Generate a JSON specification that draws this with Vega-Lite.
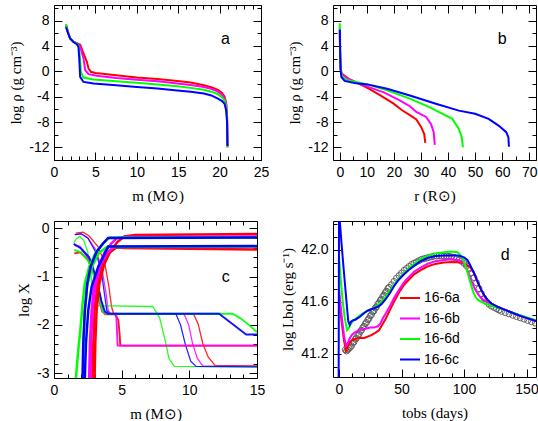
{
"$schema": "https://vega.github.io/schema/vega-lite/v6.json",
"background": "white",
"padding": {"left": 8, "top": 0, "right": 0, "bottom": 0},
"config": {
  "view": {"stroke": "#000", "strokeWidth": 1},
  "axis": {"domain": false, "grid": false, "tickColor": "#000", "tickWidth": 1, "labelFont": "Liberation Sans", "labelFontSize": 14, "labelColor": "#000", "labelPadding": 13, "labelFlush": false, "labelOverlap": false, "titleFont": "Liberation Serif", "titleFontSize": 15, "titleFontWeight": "normal", "titleColor": "#000", "titlePadding": 5},
  "text": {"font": "Liberation Sans"}
},
"datasets": {
  "pa": [
    {"k":"16-6a","m":1.45,"r":7.3},{"k":"16-6a","m":1.74,"r":6.0},{"k":"16-6a","m":1.94,"r":5.24},{"k":"16-6a","m":2.35,"r":4.7},{"k":"16-6a","m":2.75,"r":4.45},{"k":"16-6a","m":3.16,"r":4.2},{"k":"16-6a","m":3.56,"r":2.85},{"k":"16-6a","m":3.97,"r":1.53},{"k":"16-6a","m":4.17,"r":0.47},{"k":"16-6a","m":4.45,"r":-0.06},{"k":"16-6a","m":5.0,"r":-0.25},{"k":"16-6a","m":5.6,"r":-0.33},{"k":"16-6a","m":7.5,"r":-0.62},{"k":"16-6a","m":10,"r":-0.97},{"k":"16-6a","m":12.5,"r":-1.2},{"k":"16-6a","m":14.9,"r":-1.5},{"k":"16-6a","m":16.5,"r":-1.75},{"k":"16-6a","m":18.1,"r":-2.2},{"k":"16-6a","m":19.0,"r":-2.5},{"k":"16-6a","m":19.8,"r":-2.9},{"k":"16-6a","m":20.3,"r":-3.4},{"k":"16-6a","m":20.6,"r":-4.0},{"k":"16-6a","m":20.8,"r":-5.0},{"k":"16-6a","m":20.9,"r":-7},{"k":"16-6a","m":20.95,"r":-12},
    {"k":"16-6b","m":1.45,"r":7.3},{"k":"16-6b","m":1.74,"r":6.0},{"k":"16-6b","m":1.94,"r":5.24},{"k":"16-6b","m":2.35,"r":4.7},{"k":"16-6b","m":2.75,"r":4.45},{"k":"16-6b","m":3.16,"r":3.9},{"k":"16-6b","m":3.56,"r":2.06},{"k":"16-6b","m":3.77,"r":0.2},{"k":"16-6b","m":4.17,"r":-0.43},{"k":"16-6b","m":5.0,"r":-0.65},{"k":"16-6b","m":5.6,"r":-0.75},{"k":"16-6b","m":7.5,"r":-1.05},{"k":"16-6b","m":10,"r":-1.3},{"k":"16-6b","m":12.5,"r":-1.55},{"k":"16-6b","m":14.9,"r":-1.9},{"k":"16-6b","m":16.5,"r":-2.15},{"k":"16-6b","m":18.1,"r":-2.45},{"k":"16-6b","m":19.0,"r":-2.75},{"k":"16-6b","m":19.8,"r":-3.2},{"k":"16-6b","m":20.3,"r":-3.7},{"k":"16-6b","m":20.6,"r":-4.3},{"k":"16-6b","m":20.8,"r":-5.3},{"k":"16-6b","m":20.9,"r":-7},{"k":"16-6b","m":20.95,"r":-12},
    {"k":"16-6d","m":1.45,"r":7.5},{"k":"16-6d","m":1.74,"r":6.0},{"k":"16-6d","m":1.94,"r":5.24},{"k":"16-6d","m":2.35,"r":4.7},{"k":"16-6d","m":2.75,"r":4.4},{"k":"16-6d","m":3.0,"r":3.9},{"k":"16-6d","m":3.15,"r":2.0},{"k":"16-6d","m":3.24,"r":-0.06},{"k":"16-6d","m":3.56,"r":-0.97},{"k":"16-6d","m":4.78,"r":-1.28},{"k":"16-6d","m":7.5,"r":-1.55},{"k":"16-6d","m":10,"r":-1.8},{"k":"16-6d","m":12.5,"r":-2.05},{"k":"16-6d","m":14.9,"r":-2.35},{"k":"16-6d","m":16.5,"r":-2.6},{"k":"16-6d","m":18.1,"r":-2.9},{"k":"16-6d","m":19.0,"r":-3.2},{"k":"16-6d","m":19.8,"r":-3.6},{"k":"16-6d","m":20.3,"r":-4.1},{"k":"16-6d","m":20.6,"r":-4.6},{"k":"16-6d","m":20.8,"r":-5.6},{"k":"16-6d","m":20.9,"r":-7.5},{"k":"16-6d","m":20.95,"r":-12},
    {"k":"16-6c","m":1.45,"r":7.0},{"k":"16-6c","m":1.74,"r":5.9},{"k":"16-6c","m":1.94,"r":5.2},{"k":"16-6c","m":2.35,"r":4.65},{"k":"16-6c","m":2.75,"r":4.3},{"k":"16-6c","m":2.95,"r":3.9},{"k":"16-6c","m":3.05,"r":2.0},{"k":"16-6c","m":3.1,"r":0.73},{"k":"16-6c","m":3.16,"r":-0.86},{"k":"16-6c","m":3.56,"r":-1.66},{"k":"16-6c","m":4.78,"r":-1.92},{"k":"16-6c","m":7.5,"r":-2.2},{"k":"16-6c","m":10,"r":-2.45},{"k":"16-6c","m":12.5,"r":-2.7},{"k":"16-6c","m":14.9,"r":-3.0},{"k":"16-6c","m":16.5,"r":-3.2},{"k":"16-6c","m":18.1,"r":-3.5},{"k":"16-6c","m":19.0,"r":-3.8},{"k":"16-6c","m":19.8,"r":-4.3},{"k":"16-6c","m":20.3,"r":-4.7},{"k":"16-6c","m":20.6,"r":-5.1},{"k":"16-6c","m":20.8,"r":-6.2},{"k":"16-6c","m":20.9,"r":-8},{"k":"16-6c","m":20.95,"r":-11.8}
  ],
  "pb": [
    {"k":"16-6a","R":0.0,"r":6.8},{"k":"16-6a","R":0.1,"r":3.5},{"k":"16-6a","R":0.25,"r":0.8},{"k":"16-6a","R":0.6,"r":-0.2},{"k":"16-6a","R":1.2,"r":-0.5},{"k":"16-6a","R":3,"r":-1.1},{"k":"16-6a","R":6.6,"r":-1.85},{"k":"16-6a","R":10.2,"r":-2.6},{"k":"16-6a","R":15,"r":-3.8},{"k":"16-6a","R":19.9,"r":-5.1},{"k":"16-6a","R":22.9,"r":-6.1},{"k":"16-6a","R":25.9,"r":-6.9},{"k":"16-6a","R":28.3,"r":-7.6},{"k":"16-6a","R":30.1,"r":-8.8},{"k":"16-6a","R":31.2,"r":-9.9},{"k":"16-6a","R":31.6,"r":-11.3},
    {"k":"16-6b","R":0.0,"r":6.9},{"k":"16-6b","R":0.1,"r":3.5},{"k":"16-6b","R":0.25,"r":0.8},{"k":"16-6b","R":0.6,"r":-0.3},{"k":"16-6b","R":1.2,"r":-0.6},{"k":"16-6b","R":4.2,"r":-1.4},{"k":"16-6b","R":10.2,"r":-2.4},{"k":"16-6b","R":16.3,"r":-3.3},{"k":"16-6b","R":22.3,"r":-4.6},{"k":"16-6b","R":25.9,"r":-5.5},{"k":"16-6b","R":28.3,"r":-6.4},{"k":"16-6b","R":31.9,"r":-7.2},{"k":"16-6b","R":33.7,"r":-8.3},{"k":"16-6b","R":34.7,"r":-9.6},{"k":"16-6b","R":35.1,"r":-11.6},
    {"k":"16-6d","R":0.0,"r":7.6},{"k":"16-6d","R":0.1,"r":4},{"k":"16-6d","R":0.25,"r":0.6},{"k":"16-6d","R":0.84,"r":-0.9},{"k":"16-6d","R":3,"r":-1.4},{"k":"16-6d","R":10.2,"r":-2.05},{"k":"16-6d","R":17.5,"r":-3.0},{"k":"16-6d","R":25.9,"r":-4.3},{"k":"16-6d","R":33.1,"r":-5.65},{"k":"16-6d","R":38,"r":-6.7},{"k":"16-6d","R":41.6,"r":-7.5},{"k":"16-6d","R":44,"r":-9.1},{"k":"16-6d","R":45.1,"r":-10.4},{"k":"16-6d","R":45.5,"r":-12},
    {"k":"16-6c","R":0.05,"r":6.6},{"k":"16-6c","R":0.15,"r":3},{"k":"16-6c","R":0.3,"r":0.3},{"k":"16-6c","R":0.6,"r":-0.9},{"k":"16-6c","R":1.8,"r":-1.5},{"k":"16-6c","R":5.4,"r":-1.84},{"k":"16-6c","R":10.2,"r":-2.05},{"k":"16-6c","R":17.5,"r":-2.74},{"k":"16-6c","R":25.9,"r":-3.8},{"k":"16-6c","R":35.5,"r":-5.1},{"k":"16-6c","R":44,"r":-6.2},{"k":"16-6c","R":50,"r":-6.7},{"k":"16-6c","R":55,"r":-7.5},{"k":"16-6c","R":58.8,"r":-8.6},{"k":"16-6c","R":61.5,"r":-9.6},{"k":"16-6c","R":62.3,"r":-10.4},{"k":"16-6c","R":62.5,"r":-11.9}
  ],
  "pc": [
    {"k":"16-6a","s":"aO","w":"thin","m":1.6,"v":-0.1},{"k":"16-6a","s":"aO","w":"thin","m":2.15,"v":-0.08},{"k":"16-6a","s":"aO","w":"thin","m":2.6,"v":-0.16},{"k":"16-6a","s":"aO","w":"thin","m":3.25,"v":-0.38},{"k":"16-6a","s":"aO","w":"thin","m":3.75,"v":-0.72},{"k":"16-6a","s":"aO","w":"thin","m":4.05,"v":-1.2},{"k":"16-6a","s":"aO","w":"thin","m":4.25,"v":-1.62},{"k":"16-6a","s":"aO","w":"thin","m":4.4,"v":-1.77},{"k":"16-6a","s":"aO","w":"thin","m":10.3,"v":-1.77},{"k":"16-6a","s":"aO","w":"thin","m":10.65,"v":-1.98},{"k":"16-6a","s":"aO","w":"thin","m":11.0,"v":-2.39},{"k":"16-6a","s":"aO","w":"thin","m":11.4,"v":-2.67},{"k":"16-6a","s":"aO","w":"thin","m":11.9,"v":-2.84},{"k":"16-6a","s":"aO","w":"thin","m":15,"v":-2.85},
    {"k":"16-6b","s":"bO","w":"thin","m":1.55,"v":-0.13},{"k":"16-6b","s":"bO","w":"thin","m":2.0,"v":-0.12},{"k":"16-6b","s":"bO","w":"thin","m":2.5,"v":-0.2},{"k":"16-6b","s":"bO","w":"thin","m":3.1,"v":-0.45},{"k":"16-6b","s":"bO","w":"thin","m":3.55,"v":-0.85},{"k":"16-6b","s":"bO","w":"thin","m":3.85,"v":-1.35},{"k":"16-6b","s":"bO","w":"thin","m":4.0,"v":-1.7},{"k":"16-6b","s":"bO","w":"thin","m":4.2,"v":-1.77},{"k":"16-6b","s":"bO","w":"thin","m":9.6,"v":-1.77},{"k":"16-6b","s":"bO","w":"thin","m":9.95,"v":-2.0},{"k":"16-6b","s":"bO","w":"thin","m":10.25,"v":-2.4},{"k":"16-6b","s":"bO","w":"thin","m":10.6,"v":-2.7},{"k":"16-6b","s":"bO","w":"thin","m":11.0,"v":-2.85},{"k":"16-6b","s":"bO","w":"thin","m":15,"v":-2.86},
    {"k":"16-6d","s":"dO","w":"thin","m":1.45,"v":-0.3},{"k":"16-6d","s":"dO","w":"thin","m":1.65,"v":-0.22},{"k":"16-6d","s":"dO","w":"thin","m":1.9,"v":-0.17},{"k":"16-6d","s":"dO","w":"thin","m":2.2,"v":-0.25},{"k":"16-6d","s":"dO","w":"thin","m":2.5,"v":-0.5},{"k":"16-6d","s":"dO","w":"thin","m":2.75,"v":-1.0},{"k":"16-6d","s":"dO","w":"thin","m":2.85,"v":-1.4},{"k":"16-6d","s":"dO","w":"thin","m":2.95,"v":-1.6},{"k":"16-6d","s":"dO","w":"thin","m":7.3,"v":-1.62},{"k":"16-6d","s":"dO","w":"thin","m":7.8,"v":-1.85},{"k":"16-6d","s":"dO","w":"thin","m":8.2,"v":-2.3},{"k":"16-6d","s":"dO","w":"thin","m":8.5,"v":-2.7},{"k":"16-6d","s":"dO","w":"thin","m":8.9,"v":-2.86},{"k":"16-6d","s":"dO","w":"thin","m":15,"v":-2.87},
    {"k":"16-6c","s":"cO","w":"thin","m":1.53,"v":-0.13},{"k":"16-6c","s":"cO","w":"thin","m":2.0,"v":-0.11},{"k":"16-6c","s":"cO","w":"thin","m":2.5,"v":-0.2},{"k":"16-6c","s":"cO","w":"thin","m":3.1,"v":-0.5},{"k":"16-6c","s":"cO","w":"thin","m":3.5,"v":-0.9},{"k":"16-6c","s":"cO","w":"thin","m":3.75,"v":-1.4},{"k":"16-6c","s":"cO","w":"thin","m":3.9,"v":-1.7},{"k":"16-6c","s":"cO","w":"thin","m":4.1,"v":-1.77},{"k":"16-6c","s":"cO","w":"thin","m":9.0,"v":-1.77},{"k":"16-6c","s":"cO","w":"thin","m":9.35,"v":-2.0},{"k":"16-6c","s":"cO","w":"thin","m":9.7,"v":-2.4},{"k":"16-6c","s":"cO","w":"thin","m":10.1,"v":-2.75},{"k":"16-6c","s":"cO","w":"thin","m":10.5,"v":-2.86},{"k":"16-6c","s":"cO","w":"thin","m":15,"v":-2.87},
    {"k":"16-6a","s":"aX","w":"mid","m":1.5,"v":-0.52},{"k":"16-6a","s":"aX","w":"mid","m":1.95,"v":-0.5},{"k":"16-6a","s":"aX","w":"mid","m":2.5,"v":-0.65},{"k":"16-6a","s":"aX","w":"mid","m":3.0,"v":-0.95},{"k":"16-6a","s":"aX","w":"mid","m":3.4,"v":-1.4},{"k":"16-6a","s":"aX","w":"mid","m":3.6,"v":-1.72},{"k":"16-6a","s":"aX","w":"mid","m":3.8,"v":-1.78},{"k":"16-6a","s":"aX","w":"mid","m":4.5,"v":-1.78},{"k":"16-6a","s":"aX","w":"mid","m":4.75,"v":-1.9},{"k":"16-6a","s":"aX","w":"mid","m":4.85,"v":-2.2},{"k":"16-6a","s":"aX","w":"mid","m":4.9,"v":-2.43},{"k":"16-6a","s":"aX","w":"mid","m":15,"v":-2.43},
    {"k":"16-6b","s":"bX","w":"mid","m":1.5,"v":-0.35},{"k":"16-6b","s":"bX","w":"mid","m":1.9,"v":-0.38},{"k":"16-6b","s":"bX","w":"mid","m":2.5,"v":-0.6},{"k":"16-6b","s":"bX","w":"mid","m":3.0,"v":-1.0},{"k":"16-6b","s":"bX","w":"mid","m":3.35,"v":-1.5},{"k":"16-6b","s":"bX","w":"mid","m":3.55,"v":-1.72},{"k":"16-6b","s":"bX","w":"mid","m":3.8,"v":-1.77},{"k":"16-6b","s":"bX","w":"mid","m":4.6,"v":-1.77},{"k":"16-6b","s":"bX","w":"mid","m":4.65,"v":-2.1},{"k":"16-6b","s":"bX","w":"mid","m":4.7,"v":-2.43},{"k":"16-6b","s":"bX","w":"mid","m":15,"v":-2.43},
    {"k":"16-6d","s":"dX","w":"mid","m":1.5,"v":-0.45},{"k":"16-6d","s":"dX","w":"mid","m":2.0,"v":-0.5},{"k":"16-6d","s":"dX","w":"mid","m":2.6,"v":-0.7},{"k":"16-6d","s":"dX","w":"mid","m":3.1,"v":-1.1},{"k":"16-6d","s":"dX","w":"mid","m":3.4,"v":-1.5},{"k":"16-6d","s":"dX","w":"mid","m":3.6,"v":-1.72},{"k":"16-6d","s":"dX","w":"mid","m":3.9,"v":-1.77},{"k":"16-6d","s":"dX","w":"mid","m":13.2,"v":-1.77},{"k":"16-6d","s":"dX","w":"mid","m":13.8,"v":-1.87},{"k":"16-6d","s":"dX","w":"mid","m":14.4,"v":-2.0},{"k":"16-6d","s":"dX","w":"mid","m":15,"v":-2.15},
    {"k":"16-6c","s":"cX","w":"mid","m":1.45,"v":-0.32},{"k":"16-6c","s":"cX","w":"mid","m":2.0,"v":-0.42},{"k":"16-6c","s":"cX","w":"mid","m":2.6,"v":-0.6},{"k":"16-6c","s":"cX","w":"mid","m":3.1,"v":-1.0},{"k":"16-6c","s":"cX","w":"mid","m":3.5,"v":-1.5},{"k":"16-6c","s":"cX","w":"mid","m":3.75,"v":-1.72},{"k":"16-6c","s":"cX","w":"mid","m":4.0,"v":-1.77},{"k":"16-6c","s":"cX","w":"mid","m":12.2,"v":-1.77},{"k":"16-6c","s":"cX","w":"mid","m":12.8,"v":-1.9},{"k":"16-6c","s":"cX","w":"mid","m":13.5,"v":-2.05},{"k":"16-6c","s":"cX","w":"mid","m":14.2,"v":-2.2},{"k":"16-6c","s":"cX","w":"mid","m":15,"v":-2.2},
    {"k":"16-6a","s":"aH","w":"thick","m":3.0,"v":-3.1},{"k":"16-6a","s":"aH","w":"thick","m":3.05,"v":-2.4},{"k":"16-6a","s":"aH","w":"thick","m":3.15,"v":-1.7},{"k":"16-6a","s":"aH","w":"thick","m":3.35,"v":-1.15},{"k":"16-6a","s":"aH","w":"thick","m":3.7,"v":-0.75},{"k":"16-6a","s":"aH","w":"thick","m":4.2,"v":-0.46},{"k":"16-6a","s":"aH","w":"thick","m":4.7,"v":-0.28},{"k":"16-6a","s":"aH","w":"thick","m":5.2,"v":-0.17},{"k":"16-6a","s":"aH","w":"thick","m":6,"v":-0.14},{"k":"16-6a","s":"aH","w":"thick","m":15,"v":-0.12},
    {"k":"16-6a","s":"aHe","w":"thick","m":2.85,"v":-3.1},{"k":"16-6a","s":"aHe","w":"thick","m":2.9,"v":-2.4},{"k":"16-6a","s":"aHe","w":"thick","m":3.0,"v":-1.7},{"k":"16-6a","s":"aHe","w":"thick","m":3.2,"v":-1.2},{"k":"16-6a","s":"aHe","w":"thick","m":3.55,"v":-0.8},{"k":"16-6a","s":"aHe","w":"thick","m":4.05,"v":-0.52},{"k":"16-6a","s":"aHe","w":"thick","m":4.6,"v":-0.4},{"k":"16-6a","s":"aHe","w":"thick","m":5.2,"v":-0.41},{"k":"16-6a","s":"aHe","w":"thick","m":15,"v":-0.44},
    {"k":"16-6b","s":"bH","w":"thick","m":2.6,"v":-3.1},{"k":"16-6b","s":"bH","w":"thick","m":2.65,"v":-2.4},{"k":"16-6b","s":"bH","w":"thick","m":2.78,"v":-1.7},{"k":"16-6b","s":"bH","w":"thick","m":2.95,"v":-1.2},{"k":"16-6b","s":"bH","w":"thick","m":3.27,"v":-0.8},{"k":"16-6b","s":"bH","w":"thick","m":3.76,"v":-0.49},{"k":"16-6b","s":"bH","w":"thick","m":4.25,"v":-0.31},{"k":"16-6b","s":"bH","w":"thick","m":4.62,"v":-0.21},{"k":"16-6b","s":"bH","w":"thick","m":5.2,"v":-0.18},{"k":"16-6b","s":"bH","w":"thick","m":15,"v":-0.17},
    {"k":"16-6b","s":"bHe","w":"thick","m":2.7,"v":-3.1},{"k":"16-6b","s":"bHe","w":"thick","m":2.73,"v":-2.4},{"k":"16-6b","s":"bHe","w":"thick","m":2.85,"v":-1.7},{"k":"16-6b","s":"bHe","w":"thick","m":3.05,"v":-1.2},{"k":"16-6b","s":"bHe","w":"thick","m":3.4,"v":-0.8},{"k":"16-6b","s":"bHe","w":"thick","m":3.9,"v":-0.52},{"k":"16-6b","s":"bHe","w":"thick","m":4.4,"v":-0.39},{"k":"16-6b","s":"bHe","w":"thick","m":15,"v":-0.39},
    {"k":"16-6d","s":"dH","w":"thick","m":1.62,"v":-3.1},{"k":"16-6d","s":"dH","w":"thick","m":1.79,"v":-2.53},{"k":"16-6d","s":"dH","w":"thick","m":1.97,"v":-2.04},{"k":"16-6d","s":"dH","w":"thick","m":2.11,"v":-1.56},{"k":"16-6d","s":"dH","w":"thick","m":2.28,"v":-1.14},{"k":"16-6d","s":"dH","w":"thick","m":2.6,"v":-0.8},{"k":"16-6d","s":"dH","w":"thick","m":3.1,"v":-0.49},{"k":"16-6d","s":"dH","w":"thick","m":3.64,"v":-0.31},{"k":"16-6d","s":"dH","w":"thick","m":4.13,"v":-0.19},{"k":"16-6d","s":"dH","w":"thick","m":15,"v":-0.19},
    {"k":"16-6d","s":"dHe","w":"thick","m":2.15,"v":-3.1},{"k":"16-6d","s":"dHe","w":"thick","m":2.18,"v":-2.4},{"k":"16-6d","s":"dHe","w":"thick","m":2.28,"v":-1.7},{"k":"16-6d","s":"dHe","w":"thick","m":2.45,"v":-1.2},{"k":"16-6d","s":"dHe","w":"thick","m":2.8,"v":-0.8},{"k":"16-6d","s":"dHe","w":"thick","m":3.3,"v":-0.52},{"k":"16-6d","s":"dHe","w":"thick","m":3.9,"v":-0.39},{"k":"16-6d","s":"dHe","w":"thick","m":15,"v":-0.38},
    {"k":"16-6c","s":"cH","w":"thick","m":2.11,"v":-3.1},{"k":"16-6c","s":"cH","w":"thick","m":2.16,"v":-2.39},{"k":"16-6c","s":"cH","w":"thick","m":2.28,"v":-1.7},{"k":"16-6c","s":"cH","w":"thick","m":2.46,"v":-1.14},{"k":"16-6c","s":"cH","w":"thick","m":2.7,"v":-0.8},{"k":"16-6c","s":"cH","w":"thick","m":3.14,"v":-0.49},{"k":"16-6c","s":"cH","w":"thick","m":3.64,"v":-0.31},{"k":"16-6c","s":"cH","w":"thick","m":4.0,"v":-0.2},{"k":"16-6c","s":"cH","w":"thick","m":15,"v":-0.19},
    {"k":"16-6c","s":"cHe","w":"thick","m":2.28,"v":-3.1},{"k":"16-6c","s":"cHe","w":"thick","m":2.36,"v":-2.39},{"k":"16-6c","s":"cHe","w":"thick","m":2.53,"v":-1.7},{"k":"16-6c","s":"cHe","w":"thick","m":2.78,"v":-1.21},{"k":"16-6c","s":"cHe","w":"thick","m":3.27,"v":-0.8},{"k":"16-6c","s":"cHe","w":"thick","m":3.76,"v":-0.52},{"k":"16-6c","s":"cHe","w":"thick","m":4.0,"v":-0.38},{"k":"16-6c","s":"cHe","w":"thick","m":15,"v":-0.37}
  ],
  "pd": [
    {"k":"16-6a","t":0,"L":41.65},{"k":"16-6a","t":2,"L":41.45},{"k":"16-6a","t":4,"L":41.3},{"k":"16-6a","t":5.6,"L":41.22},{"k":"16-6a","t":7,"L":41.25},{"k":"16-6a","t":8.2,"L":41.28},{"k":"16-6a","t":10,"L":41.3},{"k":"16-6a","t":12.2,"L":41.31},{"k":"16-6a","t":16,"L":41.32},{"k":"16-6a","t":20.2,"L":41.32},{"k":"16-6a","t":25.5,"L":41.34},{"k":"16-6a","t":29,"L":41.36},{"k":"16-6a","t":32,"L":41.38},{"k":"16-6a","t":35,"L":41.43},{"k":"16-6a","t":37.5,"L":41.47},{"k":"16-6a","t":41,"L":41.54},{"k":"16-6a","t":44.1,"L":41.6},{"k":"16-6a","t":48,"L":41.67},{"k":"16-6a","t":52.1,"L":41.73},{"k":"16-6a","t":56,"L":41.77},{"k":"16-6a","t":60.1,"L":41.81},{"k":"16-6a","t":65,"L":41.84},{"k":"16-6a","t":70.7,"L":41.87},{"k":"16-6a","t":77,"L":41.89},{"k":"16-6a","t":84,"L":41.9},{"k":"16-6a","t":90,"L":41.905},{"k":"16-6a","t":97.3,"L":41.9},{"k":"16-6a","t":101,"L":41.89},{"k":"16-6a","t":105.3,"L":41.86},{"k":"16-6a","t":108,"L":41.82},{"k":"16-6a","t":111,"L":41.75},{"k":"16-6a","t":113.3,"L":41.7},{"k":"16-6a","t":116,"L":41.65},{"k":"16-6a","t":118.6,"L":41.61},{"k":"16-6a","t":122,"L":41.58},{"k":"16-6a","t":126.6,"L":41.56},{"k":"16-6a","t":132,"L":41.54},{"k":"16-6a","t":137.2,"L":41.52},{"k":"16-6a","t":145,"L":41.49},{"k":"16-6a","t":158,"L":41.45},
    {"k":"16-6b","t":0,"L":41.7},{"k":"16-6b","t":2,"L":41.5},{"k":"16-6b","t":4,"L":41.34},{"k":"16-6b","t":5.6,"L":41.26},{"k":"16-6b","t":7,"L":41.28},{"k":"16-6b","t":8.2,"L":41.31},{"k":"16-6b","t":10,"L":41.34},{"k":"16-6b","t":12.2,"L":41.36},{"k":"16-6b","t":16,"L":41.38},{"k":"16-6b","t":20.2,"L":41.39},{"k":"16-6b","t":25,"L":41.4},{"k":"16-6b","t":28.2,"L":41.4},{"k":"16-6b","t":31,"L":41.41},{"k":"16-6b","t":33,"L":41.43},{"k":"16-6b","t":35,"L":41.47},{"k":"16-6b","t":37.5,"L":41.51},{"k":"16-6b","t":41,"L":41.57},{"k":"16-6b","t":44.1,"L":41.63},{"k":"16-6b","t":48,"L":41.69},{"k":"16-6b","t":52.1,"L":41.75},{"k":"16-6b","t":56,"L":41.79},{"k":"16-6b","t":60.1,"L":41.83},{"k":"16-6b","t":65,"L":41.86},{"k":"16-6b","t":70.7,"L":41.89},{"k":"16-6b","t":77,"L":41.91},{"k":"16-6b","t":84,"L":41.92},{"k":"16-6b","t":90,"L":41.925},{"k":"16-6b","t":95,"L":41.92},{"k":"16-6b","t":98,"L":41.91},{"k":"16-6b","t":100,"L":41.895},{"k":"16-6b","t":102,"L":41.86},{"k":"16-6b","t":104,"L":41.81},{"k":"16-6b","t":106,"L":41.76},{"k":"16-6b","t":108.5,"L":41.7},{"k":"16-6b","t":111,"L":41.66},{"k":"16-6b","t":113,"L":41.635},{"k":"16-6b","t":115.5,"L":41.61},{"k":"16-6b","t":118.6,"L":41.595},{"k":"16-6b","t":122,"L":41.58},{"k":"16-6b","t":126.6,"L":41.56},{"k":"16-6b","t":132,"L":41.54},{"k":"16-6b","t":137.2,"L":41.52},{"k":"16-6b","t":145,"L":41.49},{"k":"16-6b","t":158,"L":41.45},
    {"k":"16-6d","t":0,"L":41.95},{"k":"16-6d","t":1.5,"L":41.75},{"k":"16-6d","t":3,"L":41.6},{"k":"16-6d","t":4.5,"L":41.48},{"k":"16-6d","t":6.4,"L":41.38},{"k":"16-6d","t":8,"L":41.4},{"k":"16-6d","t":9.6,"L":41.43},{"k":"16-6d","t":12,"L":41.46},{"k":"16-6d","t":14.9,"L":41.48},{"k":"16-6d","t":19,"L":41.51},{"k":"16-6d","t":22.9,"L":41.53},{"k":"16-6d","t":27,"L":41.55},{"k":"16-6d","t":30.9,"L":41.57},{"k":"16-6d","t":34,"L":41.6},{"k":"16-6d","t":37.5,"L":41.64},{"k":"16-6d","t":41,"L":41.69},{"k":"16-6d","t":44.1,"L":41.73},{"k":"16-6d","t":48,"L":41.78},{"k":"16-6d","t":52.1,"L":41.82},{"k":"16-6d","t":56,"L":41.86},{"k":"16-6d","t":60.1,"L":41.89},{"k":"16-6d","t":65,"L":41.925},{"k":"16-6d","t":70.7,"L":41.95},{"k":"16-6d","t":77,"L":41.97},{"k":"16-6d","t":84,"L":41.98},{"k":"16-6d","t":90,"L":41.985},{"k":"16-6d","t":94.7,"L":41.98},{"k":"16-6d","t":97,"L":41.96},{"k":"16-6d","t":99,"L":41.93},{"k":"16-6d","t":101,"L":41.88},{"k":"16-6d","t":103,"L":41.82},{"k":"16-6d","t":105.3,"L":41.74},{"k":"16-6d","t":107.5,"L":41.67},{"k":"16-6d","t":109.3,"L":41.635},{"k":"16-6d","t":111,"L":41.615},{"k":"16-6d","t":113.3,"L":41.6},{"k":"16-6d","t":117,"L":41.585},{"k":"16-6d","t":121.3,"L":41.57},{"k":"16-6d","t":126,"L":41.555},{"k":"16-6d","t":131.9,"L":41.54},{"k":"16-6d","t":140,"L":41.51},{"k":"16-6d","t":148,"L":41.485},{"k":"16-6d","t":158,"L":41.455},
    {"k":"16-6c","t":-0.3,"L":40.9},{"k":"16-6c","t":0.05,"L":42.4},{"k":"16-6c","t":0.4,"L":42.25},{"k":"16-6c","t":2,"L":42.05},{"k":"16-6c","t":4,"L":41.82},{"k":"16-6c","t":6,"L":41.6},{"k":"16-6c","t":7.4,"L":41.45},{"k":"16-6c","t":8.5,"L":41.42},{"k":"16-6c","t":9.6,"L":41.445},{"k":"16-6c","t":11,"L":41.455},{"k":"16-6c","t":13,"L":41.46},{"k":"16-6c","t":16.2,"L":41.48},{"k":"16-6c","t":20,"L":41.51},{"k":"16-6c","t":22.9,"L":41.53},{"k":"16-6c","t":27,"L":41.545},{"k":"16-6c","t":30.9,"L":41.56},{"k":"16-6c","t":34,"L":41.58},{"k":"16-6c","t":37.5,"L":41.62},{"k":"16-6c","t":41,"L":41.67},{"k":"16-6c","t":44.1,"L":41.72},{"k":"16-6c","t":48,"L":41.77},{"k":"16-6c","t":52.1,"L":41.81},{"k":"16-6c","t":56,"L":41.845},{"k":"16-6c","t":60.1,"L":41.875},{"k":"16-6c","t":65,"L":41.91},{"k":"16-6c","t":70.7,"L":41.935},{"k":"16-6c","t":77,"L":41.95},{"k":"16-6c","t":84,"L":41.955},{"k":"16-6c","t":90,"L":41.955},{"k":"16-6c","t":95,"L":41.955},{"k":"16-6c","t":97.3,"L":41.95},{"k":"16-6c","t":100,"L":41.94},{"k":"16-6c","t":102.7,"L":41.92},{"k":"16-6c","t":105,"L":41.88},{"k":"16-6c","t":108,"L":41.82},{"k":"16-6c","t":110.5,"L":41.76},{"k":"16-6c","t":113.3,"L":41.7},{"k":"16-6c","t":116,"L":41.65},{"k":"16-6c","t":118.6,"L":41.615},{"k":"16-6c","t":122,"L":41.585},{"k":"16-6c","t":126.6,"L":41.56},{"k":"16-6c","t":132,"L":41.54},{"k":"16-6c","t":137.2,"L":41.52},{"k":"16-6c","t":145,"L":41.49},{"k":"16-6c","t":158,"L":41.45}
  ],
  "obs": [
    {"t":5,"L":41.23},{"t":6,"L":41.22},{"t":7,"L":41.23},{"t":8,"L":41.24},{"t":9,"L":41.25},{"t":10,"L":41.26},{"t":11,"L":41.28},{"t":12,"L":41.29},{"t":13,"L":41.31},{"t":14,"L":41.32},{"t":15,"L":41.34},{"t":16,"L":41.35},{"t":17,"L":41.37},{"t":18,"L":41.38},{"t":19,"L":41.4},{"t":20,"L":41.41},{"t":21,"L":41.43},{"t":22,"L":41.44},{"t":23,"L":41.46},{"t":24,"L":41.47},{"t":25,"L":41.49},{"t":26,"L":41.5},{"t":27,"L":41.52},{"t":28,"L":41.53},{"t":29,"L":41.55},{"t":30,"L":41.56},{"t":31,"L":41.58},{"t":32,"L":41.59},{"t":33,"L":41.61},{"t":34,"L":41.62},{"t":35,"L":41.64},{"t":36,"L":41.65},{"t":37,"L":41.67},{"t":38,"L":41.68},{"t":39,"L":41.7},{"t":40,"L":41.71},{"t":42,"L":41.73},{"t":44,"L":41.755},{"t":46,"L":41.78},{"t":48,"L":41.8},{"t":50,"L":41.82},{"t":52,"L":41.84},{"t":54,"L":41.855},{"t":56,"L":41.87},{"t":58,"L":41.885},{"t":60,"L":41.895},{"t":62,"L":41.905},{"t":64,"L":41.915},{"t":66,"L":41.925},{"t":68,"L":41.93},{"t":70,"L":41.935},{"t":72,"L":41.94},{"t":74,"L":41.945},{"t":76,"L":41.95},{"t":78,"L":41.95},{"t":80,"L":41.952},{"t":82,"L":41.952},{"t":84,"L":41.95},{"t":86,"L":41.95},{"t":88,"L":41.948},{"t":90,"L":41.945},{"t":92,"L":41.94},{"t":94,"L":41.93},{"t":96,"L":41.92},{"t":98,"L":41.91},{"t":100,"L":41.895},{"t":102,"L":41.875},{"t":104,"L":41.85},{"t":106,"L":41.82},{"t":108,"L":41.785},{"t":110,"L":41.745},{"t":112,"L":41.7},{"t":114,"L":41.66},{"t":116,"L":41.625},{"t":118,"L":41.6},{"t":120,"L":41.58},{"t":122,"L":41.565},{"t":124,"L":41.555},{"t":126,"L":41.545},{"t":128,"L":41.535},{"t":130,"L":41.525},{"t":133,"L":41.515},{"t":136,"L":41.505},{"t":139,"L":41.495},{"t":142,"L":41.485},{"t":145,"L":41.475},{"t":148,"L":41.465},{"t":151,"L":41.455},{"t":154,"L":41.445},{"t":157,"L":41.435}
  ]
},
"columns": 2,
"spacing": {"row": 61, "column": 72},
"bounds": "flush",
"resolve": {"scale": {"color": "independent"}, "legend": {"color": "independent"}},
"concat": [
  {"width": 207, "height": 155,
   "layer": [
    {"data": {"name": "pa"}, "mark": {"type": "line", "strokeWidth": 2, "clip": true},
     "encoding": {
      "x": {"field": "m", "type": "quantitative", "scale": {"domain": [0, 25], "nice": false, "zero": false},
            "axis": {"orient": "bottom", "title": "m (M⊙)", "values": [0,1,2,3,4,5,6,7,8,9,10,11,12,13,14,15,16,17,18,19,20,21,22,23,24,25], "labelExpr": "datum.value % 5 === 0 ? toString(datum.value) : ''", "tickSize": {"condition": {"test": "datum.value % 5 === 0", "value": -8}, "value": -4}}},
      "y": {"field": "r", "type": "quantitative", "scale": {"domain": [-14, 10.5], "nice": false, "zero": false},
            "axis": {"orient": "left", "title": "log ρ (g cm⁻³)", "values": [-14,-12,-10,-8,-6,-4,-2,0,2,4,6,8,10], "labelExpr": "datum.value % 4 === 0 ? toString(datum.value) : ''", "tickSize": {"condition": {"test": "datum.value % 4 === 0", "value": -8}, "value": -4}}},
      "color": {"field": "k", "type": "nominal", "scale": {"domain": ["16-6a","16-6b","16-6d","16-6c"], "range": ["#ff0000","#ff00ff","#00ff00","#0000ff"]}, "legend": null}
     }},
    {"data": {"values": [{"x": 20.7, "y": 5.2, "lab": "a"}]}, "mark": {"type": "text", "fontSize": 16, "color": "#000"},
     "encoding": {
      "x": {"field": "x", "type": "quantitative", "axis": {"orient": "top", "title": null, "labels": false, "values": [0,1,2,3,4,5,6,7,8,9,10,11,12,13,14,15,16,17,18,19,20,21,22,23,24,25], "tickSize": {"condition": {"test": "datum.value % 5 === 0", "value": -8}, "value": -4}}},
      "y": {"field": "y", "type": "quantitative", "axis": {"orient": "right", "title": null, "labels": false, "values": [-14,-12,-10,-8,-6,-4,-2,0,2,4,6,8,10], "tickSize": {"condition": {"test": "datum.value % 4 === 0", "value": -8}, "value": -4}}},
      "text": {"field": "lab"}
     }}
   ],
   "resolve": {"axis": {"x": "independent", "y": "independent"}}
  },
  {"width": 203, "height": 155,
   "layer": [
    {"data": {"name": "pb"}, "mark": {"type": "line", "strokeWidth": 2, "clip": true},
     "encoding": {
      "x": {"field": "R", "type": "quantitative", "scale": {"domain": [-2.5, 72.5], "nice": false, "zero": false},
            "axis": {"orient": "bottom", "title": "r (R⊙)", "values": [0,5,10,15,20,25,30,35,40,45,50,55,60,65,70], "labelExpr": "datum.value % 10 === 0 ? toString(datum.value) : ''", "tickSize": {"condition": {"test": "datum.value % 10 === 0", "value": -8}, "value": -4}}},
      "y": {"field": "r", "type": "quantitative", "scale": {"domain": [-14, 10.5], "nice": false, "zero": false},
            "axis": {"orient": "left", "title": "log ρ (g cm⁻³)", "values": [-14,-12,-10,-8,-6,-4,-2,0,2,4,6,8,10], "labelExpr": "datum.value % 4 === 0 ? toString(datum.value) : ''", "tickSize": {"condition": {"test": "datum.value % 4 === 0", "value": -8}, "value": -4}}},
      "color": {"field": "k", "type": "nominal", "scale": {"domain": ["16-6a","16-6b","16-6d","16-6c"], "range": ["#ff0000","#ff00ff","#00ff00","#0000ff"]}, "legend": null}
     }},
    {"data": {"values": [{"x": 60, "y": 5.2, "lab": "b"}]}, "mark": {"type": "text", "fontSize": 16, "color": "#000"},
     "encoding": {
      "x": {"field": "x", "type": "quantitative", "axis": {"orient": "top", "title": null, "labels": false, "values": [0,5,10,15,20,25,30,35,40,45,50,55,60,65,70], "tickSize": {"condition": {"test": "datum.value % 10 === 0", "value": -8}, "value": -4}}},
      "y": {"field": "y", "type": "quantitative", "axis": {"orient": "right", "title": null, "labels": false, "values": [-14,-12,-10,-8,-6,-4,-2,0,2,4,6,8,10], "tickSize": {"condition": {"test": "datum.value % 4 === 0", "value": -8}, "value": -4}}},
      "text": {"field": "lab"}
     }}
   ],
   "resolve": {"axis": {"x": "independent", "y": "independent"}}
  },
  {"width": 203, "height": 157,
   "layer": [
    {"data": {"name": "pc"}, "mark": {"type": "line", "clip": true},
     "encoding": {
      "x": {"field": "m", "type": "quantitative", "scale": {"domain": [0, 15], "nice": false, "zero": false},
            "axis": {"orient": "bottom", "title": "m (M⊙)", "values": [0,1,2,3,4,5,6,7,8,9,10,11,12,13,14,15], "labelExpr": "datum.value % 5 === 0 ? toString(datum.value) : ''", "tickSize": {"condition": {"test": "datum.value % 5 === 0", "value": -8}, "value": -4}}},
      "y": {"field": "v", "type": "quantitative", "scale": {"domain": [-3.1, 0.15], "nice": false, "zero": false},
            "axis": {"orient": "left", "title": "log X", "values": [-3,-2.8,-2.6,-2.4,-2.2,-2,-1.8,-1.6,-1.4,-1.2,-1,-0.8,-0.6,-0.4,-0.2,0], "labelExpr": "abs(datum.value - round(datum.value)) < 0.001 ? toString(round(datum.value)) : ''", "tickSize": {"condition": {"test": "abs(datum.value - round(datum.value)) < 0.001", "value": -8}, "value": -4}}},
      "color": {"field": "k", "type": "nominal", "scale": {"domain": ["16-6a","16-6b","16-6d","16-6c"], "range": ["#ff0000","#ff00ff","#00ff00","#0000ff"]}, "legend": null},
      "strokeWidth": {"field": "w", "type": "nominal", "scale": {"domain": ["thick","mid","thin"], "range": [2.5, 1.3, 1]}, "legend": null},
      "opacity": {"field": "w", "type": "nominal", "scale": {"domain": ["thick","mid","thin"], "range": [1, 0.85, 0.5]}, "legend": null},
      "detail": {"field": "s"}
     }},
    {"data": {"values": [{"x": 12.7, "y": -1.0, "lab": "c"}]}, "mark": {"type": "text", "fontSize": 16, "color": "#000"},
     "encoding": {
      "x": {"field": "x", "type": "quantitative", "axis": {"orient": "top", "title": null, "labels": false, "values": [0,1,2,3,4,5,6,7,8,9,10,11,12,13,14,15], "tickSize": {"condition": {"test": "datum.value % 5 === 0", "value": -8}, "value": -4}}},
      "y": {"field": "y", "type": "quantitative", "axis": {"orient": "right", "title": null, "labels": false, "values": [-3,-2.8,-2.6,-2.4,-2.2,-2,-1.8,-1.6,-1.4,-1.2,-1,-0.8,-0.6,-0.4,-0.2,0], "tickSize": {"condition": {"test": "abs(datum.value - round(datum.value)) < 0.001", "value": -8}, "value": -4}}},
      "text": {"field": "lab"}
     }}
   ],
   "resolve": {"axis": {"x": "independent", "y": "independent"}}
  },
  {"width": 203, "height": 156,
   "layer": [
    {"data": {"name": "obs"}, "mark": {"type": "point", "shape": "circle", "size": 36, "filled": false, "stroke": "#555", "strokeWidth": 0.9, "opacity": 1, "clip": true},
     "encoding": {
      "x": {"field": "t", "type": "quantitative", "scale": {"domain": [-4.8, 157.6], "nice": false, "zero": false},
            "axis": {"orient": "bottom", "title": "tobs (days)", "values": [0,10,20,30,40,50,60,70,80,90,100,110,120,130,140,150], "labelExpr": "datum.value % 50 === 0 ? toString(datum.value) : ''", "tickSize": {"condition": {"test": "datum.value % 50 === 0", "value": -8}, "value": -4}}},
      "y": {"field": "L", "type": "quantitative", "scale": {"domain": [41.02, 42.22], "nice": false, "zero": false},
            "axis": {"orient": "left", "title": "log Lbol (erg s⁻¹)", "values": [41.1,41.2,41.3,41.4,41.5,41.6,41.7,41.8,41.9,42.0,42.1,42.2], "labelExpr": "round(datum.value * 10) % 4 === 0 ? format(datum.value, '.1f') : ''", "tickSize": {"condition": {"test": "round(datum.value * 10) % 4 === 0", "value": -8}, "value": -4}}}
     }},
    {"data": {"name": "pd"}, "mark": {"type": "line", "strokeWidth": 2, "clip": true},
     "encoding": {
      "x": {"field": "t", "type": "quantitative", "axis": null},
      "y": {"field": "L", "type": "quantitative", "axis": null},
      "color": {"field": "k", "type": "nominal", "scale": {"domain": ["16-6a","16-6b","16-6d","16-6c"], "range": ["#ff0000","#ff00ff","#00ff00","#0000ff"]},
                "legend": {"orient": "none", "legendX": 66, "legendY": 66, "title": null, "symbolType": "stroke", "symbolStrokeWidth": 2, "symbolSize": 400, "labelFontSize": 14, "labelFont": "Liberation Sans", "labelColor": "#000", "rowPadding": 2.5, "labelOffset": 3}}
     }},
    {"data": {"values": [{"x": 133, "y": 41.96, "lab": "d"}]}, "mark": {"type": "text", "fontSize": 16, "color": "#000"},
     "encoding": {
      "x": {"field": "x", "type": "quantitative", "axis": {"orient": "top", "title": null, "labels": false, "values": [0,10,20,30,40,50,60,70,80,90,100,110,120,130,140,150], "tickSize": {"condition": {"test": "datum.value % 50 === 0", "value": -8}, "value": -4}}},
      "y": {"field": "y", "type": "quantitative", "axis": {"orient": "right", "title": null, "labels": false, "values": [41.1,41.2,41.3,41.4,41.5,41.6,41.7,41.8,41.9,42.0,42.1,42.2], "tickSize": {"condition": {"test": "round(datum.value * 10) % 4 === 0", "value": -8}, "value": -4}}},
      "text": {"field": "lab"}
     }}
   ],
   "resolve": {"axis": {"x": "independent", "y": "independent"}}
  }
]
}
